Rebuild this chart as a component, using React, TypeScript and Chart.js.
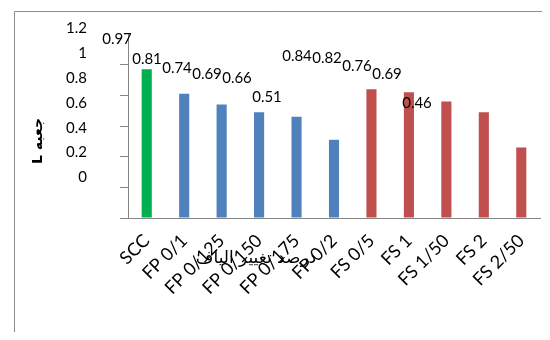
import { useEffect, useRef } from "react";
import { Chart, registerables } from "chart.js";

Chart.register(...registerables);

// Mixes: reference SCC, polypropylene-fibre (FP) and steel-fibre (FS) series
const categories = [
  "SCC",
  "FP 0/1",
  "FP 0/125",
  "FP 0/150",
  "FP 0/175",
  "FP 0/2",
  "FS 0/5",
  "FS 1",
  "FS 1/50",
  "FS 2",
  "FS 2/50",
];

// L-box ratio (H2/H1) per mix
const lBoxRatio = [0.97, 0.81, 0.74, 0.69, 0.66, 0.51, 0.84, 0.82, 0.76, 0.69, 0.46];

// Mix family of each bar
const mixFamily = ["ref", "FP", "FP", "FP", "FP", "FP", "FS", "FS", "FS", "FS", "FS"];

// Value-axis tick labels
const yTickValues = [0, 0.2, 0.4, 0.6, 0.8, 1, 1.2];

const yTitle = "جعبه L";
const xTitle = "درصد تغییر الیاف";

const familyColor: Record<string, string> = {
  ref: "#00B050",
  FP: "#4F81BD",
  FS: "#C0504D",
};

const axisGray = "#868686";
const frameGray = "#8c8c8c";

const overlayText = {
  id: "overlayText",
  afterDraw(chart: Chart) {
    const { ctx, chartArea } = chart;
    const lx = chart.scales.lx;
    const ly = chart.scales.ly;
    ctx.save();

    // outer frame (top and left edges)
    ctx.strokeStyle = frameGray;
    ctx.lineWidth = 1;
    ctx.beginPath();
    ctx.moveTo(6.5, chart.height);
    ctx.lineTo(6.5, 3.5);
    ctx.lineTo(chart.width, 3.5);
    ctx.stroke();

    ctx.fillStyle = "#000";
    ctx.font = "15px Lato";

    // value-axis labels
    ctx.textAlign = "right";
    ctx.textBaseline = "middle";
    yTickValues.forEach((v) => {
      ctx.fillText(String(Math.round(v * 10) / 10), chartArea.left - 41, ly.getPixelForValue(v));
    });

    // data labels
    ctx.textAlign = "center";
    lBoxRatio.forEach((v, i) => {
      ctx.fillText(v.toFixed(2), lx.getPixelForValue(i), ly.getPixelForValue(v) - 17);
    });

    // axis titles
    ctx.direction = "rtl";
    ctx.save();
    ctx.translate(30, 133);
    ctx.rotate(-Math.PI / 2);
    ctx.font = 'bold 14px "DejaVu Sans"';
    ctx.textAlign = "center";
    ctx.fillText(yTitle, 0, 0);
    ctx.restore();

    ctx.font = '17px "DejaVu Sans"';
    ctx.textAlign = "center";
    ctx.fillText(xTitle, 248, 251);

    ctx.restore();
  },
};

export default function App() {
  const canvasRef = useRef<HTMLCanvasElement | null>(null);

  useEffect(() => {
    const canvas = canvasRef.current;
    if (!canvas) return;
    const chart = new Chart(canvas, {
      type: "bar",
      data: {
        labels: categories,
        datasets: [
          {
            data: lBoxRatio,
            backgroundColor: mixFamily.map((f) => familyColor[f]),
            barPercentage: 0.27,
            categoryPercentage: 1,
            xAxisID: "x",
            yAxisID: "y",
          },
        ],
      },
      options: {
        responsive: false,
        maintainAspectRatio: false,
        animation: false,
        layout: { padding: { top: 26, right: 2, left: 0, bottom: 0 } },
        plugins: {
          legend: { display: false },
          tooltip: { enabled: false },
        },
        scales: {
          x: {
            type: "category",
            position: "bottom",
            grid: { display: false },
            border: { color: axisGray, width: 1 },
            ticks: {
              autoSkip: false,
              maxRotation: 45,
              minRotation: 45,
              color: "#000",
              padding: 4,
              font: { family: "Lato", size: 18 },
            },
            afterFit: (s: any) => {
              s.height = 114;
            },
          },
          y: {
            min: 0,
            max: 1.2,
            position: "left",
            ticks: { stepSize: 0.2, display: false },
            grid: {
              drawOnChartArea: false,
              tickLength: 8,
              color: (c: any) => (c.tick && c.tick.value > 1.1 ? "rgba(0,0,0,0)" : axisGray),
            },
            border: { color: axisGray, width: 1 },
            afterFit: (s: any) => {
              s.width = 120;
            },
          },
          // label placement scales
          lx: { type: "linear", display: false, offset: false, position: "bottom", min: 0.3667, max: 14.1 },
          ly: { type: "linear", display: false, offset: false, position: "left", min: -0.325, max: 1.1517 },
        },
      },
      plugins: [overlayText],
    });
    return () => chart.destroy();
  }, []);

  return (
    <canvas
      ref={canvasRef}
      width={534}
      height={324}
      style={{ display: "block", width: 534, height: 324 }}
    />
  );
}
